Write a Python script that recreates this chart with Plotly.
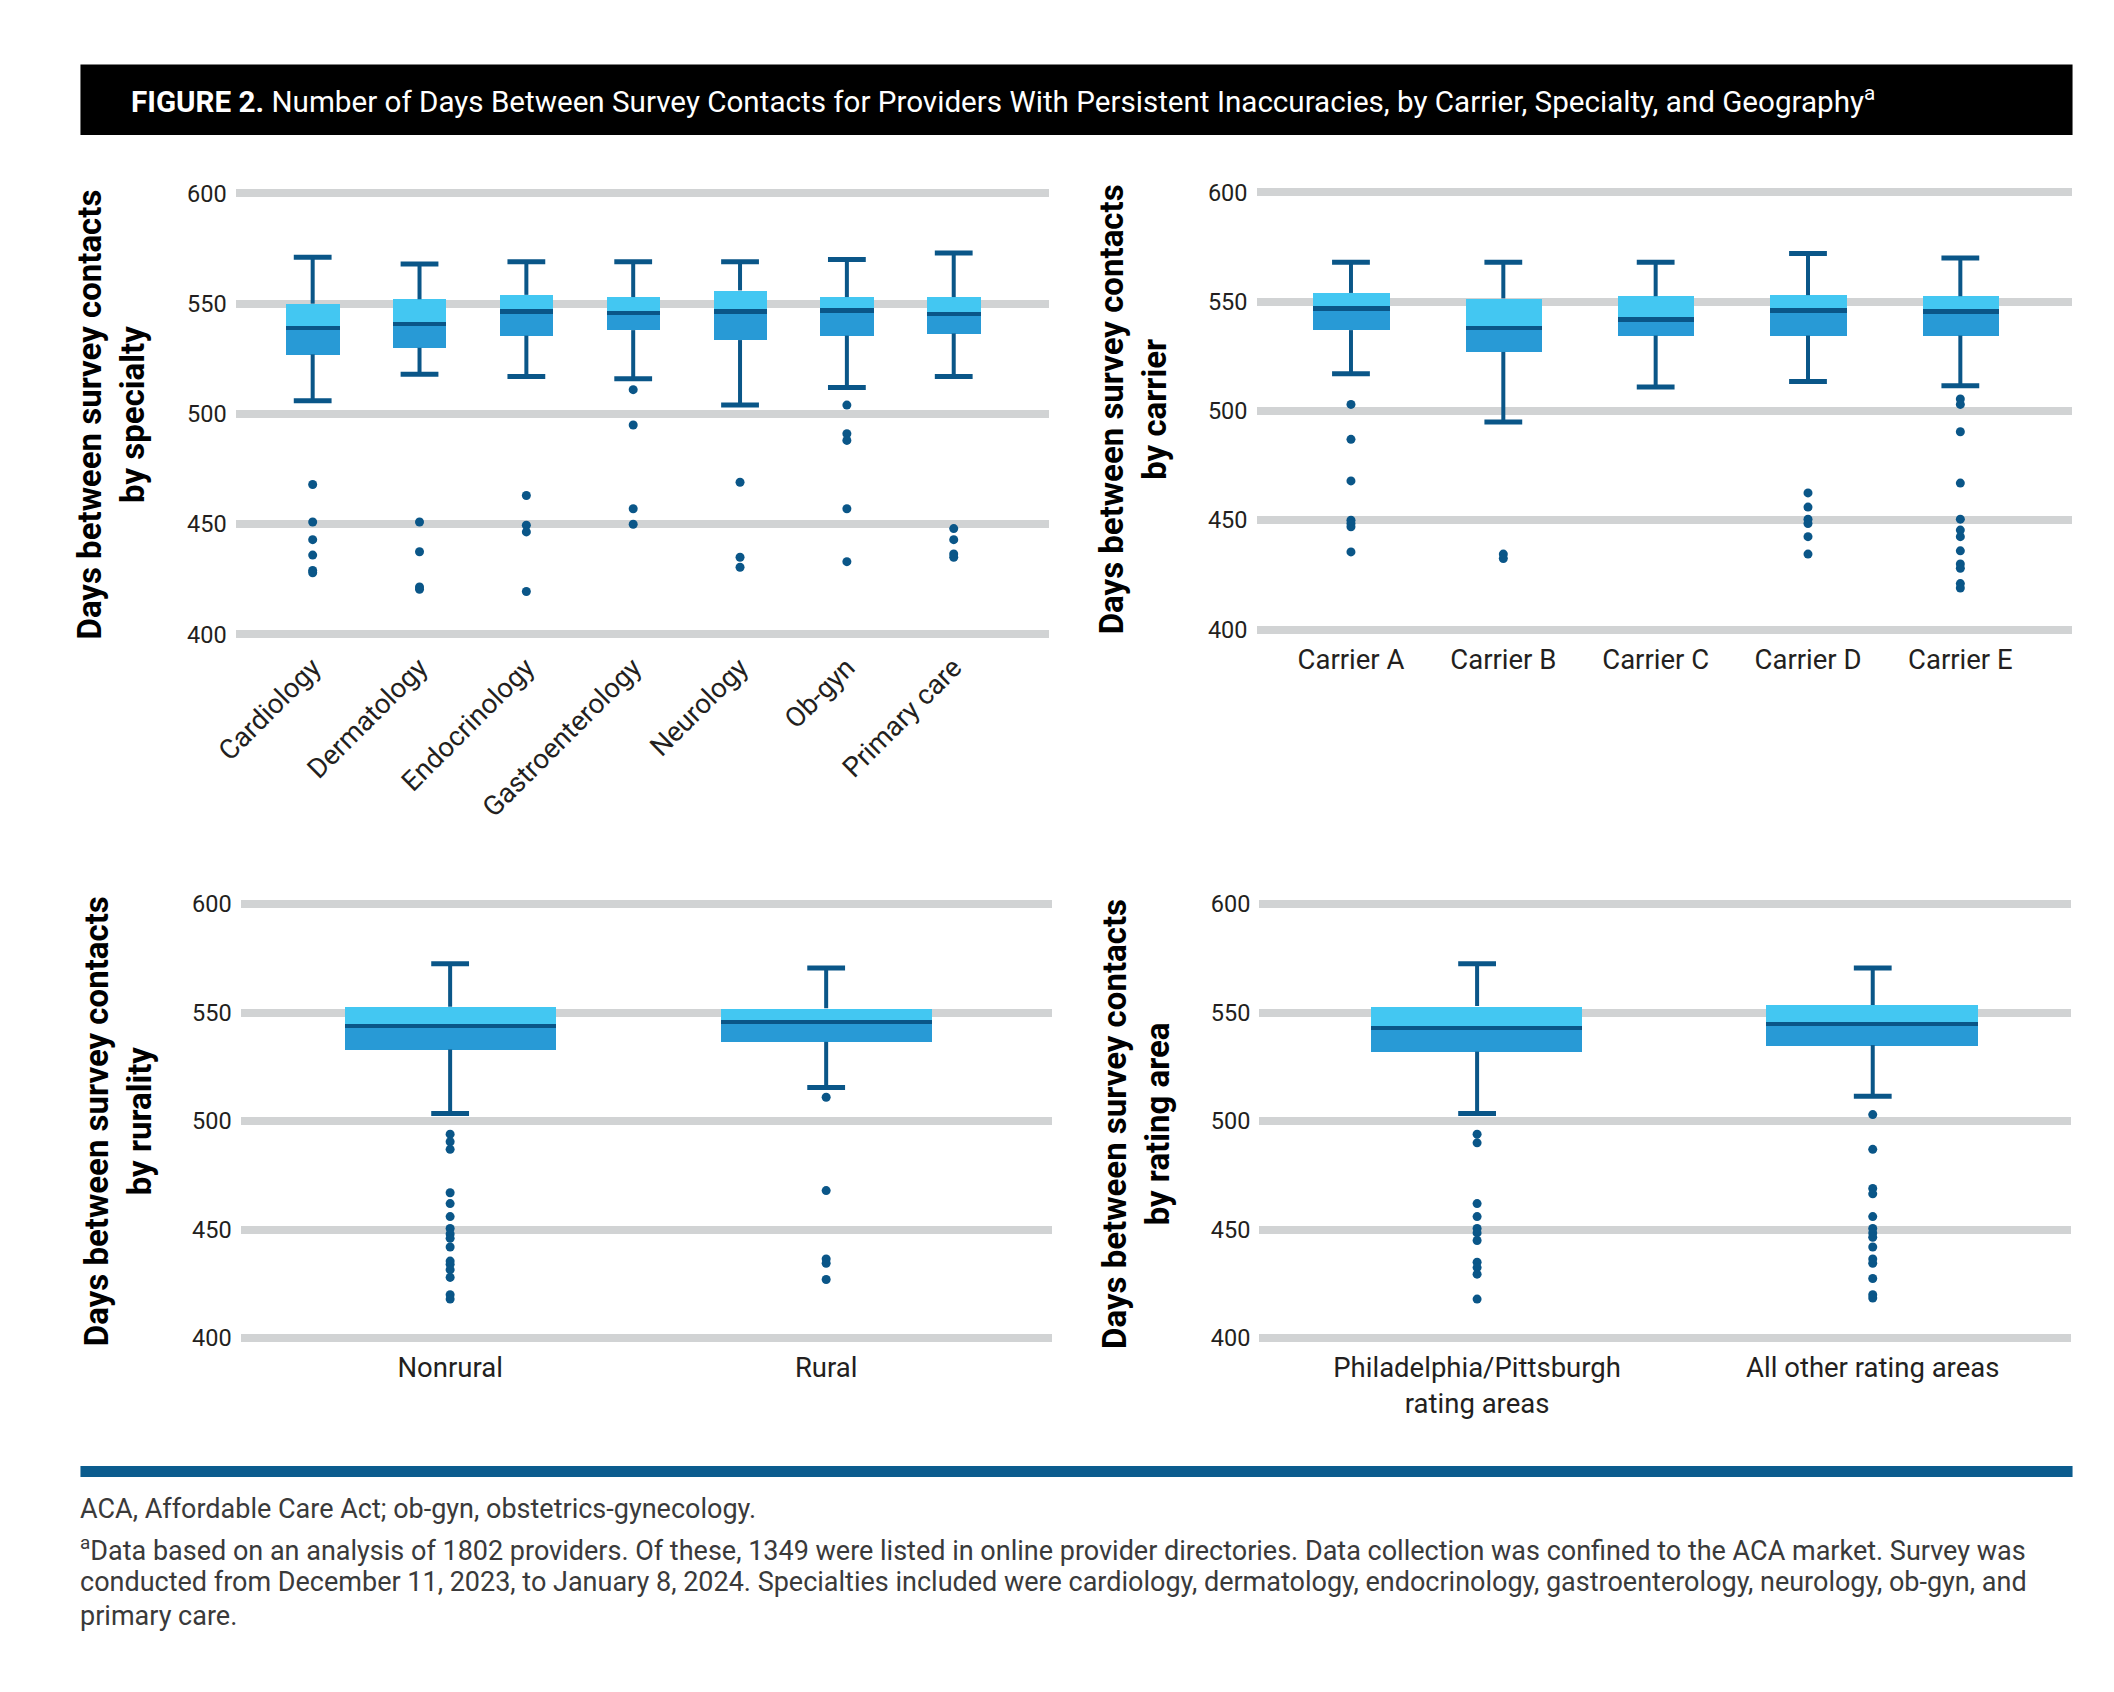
import plotly.graph_objects as go

# ---------------- data ----------------
spec_cats = ["Cardiology", "Dermatology", "Endocrinology", "Gastroenterology",
             "Neurology", "Ob-gyn", "Primary care"]
spec_upper = [571, 568, 569, 569, 569, 570, 573]
spec_q3 = [550, 552, 554, 553, 556, 553, 553]
spec_median = [539, 541, 546.5, 546, 546.5, 547, 545.5]
spec_q1 = [527, 530, 535.5, 538, 533.5, 535.5, 536.5]
spec_lower = [506, 518, 517, 516, 504, 512, 517]
spec_outliers = [
    [468, 451, 443, 436, 429, 428],
    [451, 437.5, 421.5, 420.5],
    [463, 449.5, 446.5, 419.5],
    [511, 495, 457, 450],
    [469, 435, 430.5],
    [504, 491, 488, 457, 433],
    [448, 443, 436.5, 435],
]

carrier_cats = ["Carrier A", "Carrier B", "Carrier C", "Carrier D", "Carrier E"]
carrier_upper = [568, 568, 568, 572, 570]
carrier_q3 = [554, 551.5, 552.5, 553, 552.5]
carrier_median = [547, 538, 542, 546, 545.5]
carrier_q1 = [537, 527, 534.5, 534.5, 534.5]
carrier_lower = [517, 495, 511, 513.5, 511.5]
carrier_outliers = [
    [503, 487, 468, 450, 448.5, 447, 435.5],
    [434.5, 432.5],
    [],
    [462.5, 456, 450.5, 448.5, 442.5, 434.5],
    [505.5, 503, 490.5, 467, 450.5, 445.5, 442.5, 436, 430, 428, 421, 419],
]

rural_cats = ["Nonrural", "Rural"]
rural_upper = [572.5, 570.5]
rural_q3 = [552.7, 552]
rural_median = [544, 546]
rural_q1 = [533, 536.5]
rural_lower = [503.5, 515.5]
rural_outliers = [
    [494, 490.5, 487, 467, 462, 456, 450.5, 448, 446, 442, 435.5, 434, 431.5, 428, 420, 418],
    [511, 468, 436.5, 434.5, 427],
]

area_cats = ["Philadelphia/Pittsburgh<br>rating areas", "All other rating areas"]
area_upper = [572.5, 570.5]
area_q3 = [553, 553.5]
area_median = [543, 545]
area_q1 = [532, 535]
area_lower = [503.5, 511.5]
area_outliers = [
    [494, 490, 462, 456, 450.5, 448.5, 445, 435, 432.5, 429.5, 418],
    [503, 487, 469, 466.5, 456, 450.5, 448.5, 446.5, 442, 436.5, 434.5, 427.5, 420, 418.5],
]

y_ticks = [400, 450, 500, 550, 600]

# ---------------- style ----------------
W, H = 2114, 1692
DARK = "#0A5688"
LIGHT = "#43C7F2"
MID = "#289AD6"
GRID = "#D1D3D4"
TEXT = "#231F20"
FONT = "Roboto"


def px(x):
    return x / W


def py(y):
    return 1 - y / H


fig = go.Figure()


def add_panel(k, cats, q1, med, q3, lo, hi, outs, box_w):
    xid = "x" if k == 1 else f"x{k}"
    yid = "y" if k == 1 else f"y{k}"
    xs = list(range(len(cats)))
    # whisker stems
    sx, sy = [], []
    for i in xs:
        sx += [i, i, None, i, i, None]
        sy += [q3[i], hi[i], None, q1[i], lo[i], None]
    fig.add_trace(go.Scatter(x=sx, y=sy, mode="lines", line=dict(color=DARK, width=4),
                             xaxis=xid, yaxis=yid, showlegend=False, hoverinfo="skip"))
    # whisker caps
    fig.add_trace(go.Scatter(x=xs + xs, y=hi + lo, mode="markers",
                             marker=dict(symbol="line-ew", size=27,
                                         line=dict(color=DARK, width=5)),
                             xaxis=xid, yaxis=yid, showlegend=False, hoverinfo="skip"))
    # lower half box (q1 -> median)
    fig.add_trace(go.Bar(x=xs, y=[m - a for m, a in zip(med, q1)], base=q1, width=box_w,
                         marker=dict(color=MID, line=dict(width=0)),
                         xaxis=xid, yaxis=yid, showlegend=False))
    # upper half box (median -> q3)
    fig.add_trace(go.Bar(x=xs, y=[b - m for m, b in zip(med, q3)], base=med, width=box_w,
                         marker=dict(color=LIGHT, line=dict(width=0)),
                         xaxis=xid, yaxis=yid, showlegend=False))
    # median line
    fig.add_trace(go.Bar(x=xs, y=[2.0] * len(xs), base=[m - 1.0 for m in med], width=box_w,
                         marker=dict(color=DARK, line=dict(width=0)),
                         xaxis=xid, yaxis=yid, showlegend=False))
    # outliers
    ox, oy = [], []
    for i, vals in enumerate(outs):
        ox += [i] * len(vals)
        oy += vals
    fig.add_trace(go.Scatter(x=ox, y=oy, mode="markers",
                             marker=dict(color=DARK, size=9),
                             xaxis=xid, yaxis=yid, showlegend=False))


add_panel(1, spec_cats, spec_q1, spec_median, spec_q3, spec_lower, spec_upper, spec_outliers, 0.5)
add_panel(2, carrier_cats, carrier_q1, carrier_median, carrier_q3, carrier_lower, carrier_upper,
          carrier_outliers, 0.5)
add_panel(3, rural_cats, rural_q1, rural_median, rural_q3, rural_lower, rural_upper,
          rural_outliers, 0.56)
add_panel(4, area_cats, area_q1, area_median, area_q3, area_lower, area_upper,
          area_outliers, 0.535)

# panel geometry (page px): (x0, x1, y_of_600, y_of_400, xrange, tickangle, cats)
panels = [
    (207, 1029, 180, 625, [-0.72, 6.89], -45, spec_cats),
    (1239, 2063, 179, 620, [-0.62, 4.73], 0, carrier_cats),
    (212, 1032, 897, 1335, [-0.557, 1.6], 0, rural_cats),
    (1242, 2062, 897, 1335, [-0.55, 1.5], 0, area_cats),
]

layout = dict(
    width=W, height=H,
    margin=dict(l=0, r=0, t=0, b=0),
    paper_bgcolor="white", plot_bgcolor="white",
    barmode="overlay", bargap=0,
    font=dict(family=FONT, color=TEXT),
    showlegend=False,
)

for k, (x0, x1, y600, y400, xr, ang, cats) in enumerate(panels, start=1):
    ppu = (y400 - y600) / 200.0
    top = y600 - 3 * ppu
    bot = y400 + 3 * ppu
    xkey = "xaxis" if k == 1 else f"xaxis{k}"
    ykey = "yaxis" if k == 1 else f"yaxis{k}"
    yid = "y" if k == 1 else f"y{k}"
    xid = "x" if k == 1 else f"x{k}"
    layout[xkey] = dict(
        domain=[px(x0), px(x1)], anchor=yid, range=xr,
        tickmode="array", tickvals=list(range(len(cats))), ticktext=cats,
        tickangle=ang, showgrid=False, zeroline=False, showline=False, ticks="",
        ticklabelstandoff=4,
        tickfont=dict(size=27.5, color=TEXT, family=FONT), fixedrange=True,
    )
    layout[ykey] = dict(
        domain=[py(bot), py(top)], anchor=xid, range=[397, 603],
        tickmode="array", tickvals=y_ticks,
        showgrid=True, gridcolor=GRID, gridwidth=8, zeroline=False, showline=False,
        ticks="", ticklabelstandoff=8,
        tickfont=dict(size=23.5, color=TEXT, family=FONT), fixedrange=True,
    )

fig.update_layout(**layout)

# y axis titles
ytitles = [
    ("Days between survey contacts<br>by specialty", 81, 403),
    ("Days between survey contacts<br>by carrier", 1115, 398),
    ("Days between survey contacts<br>by rurality", 88, 1116),
    ("Days between survey contacts<br>by rating area", 1117, 1119),
]
for txt, xc, yc in ytitles:
    fig.add_annotation(text=f"<b>{txt}</b>", x=px(xc), y=py(yc), xref="paper", yref="paper",
                       showarrow=False, textangle=-90, xanchor="center", yanchor="middle",
                       font=dict(size=33, color="black", family=FONT))

# title bar
fig.add_shape(type="rect", xref="paper", yref="paper", x0=px(50), x1=px(2064),
              y0=py(121), y1=py(50), fillcolor="black", line=dict(width=0), layer="below")
fig.add_annotation(
    text="<b>FIGURE 2.</b> Number of Days Between Survey Contacts for Providers With Persistent "
         "Inaccuracies, by Carrier, Specialty, and Geography<sup>a</sup>",
    x=px(99), y=py(86), xref="paper", yref="paper", xanchor="left", yanchor="middle",
    showarrow=False, font=dict(size=29.6, color="white", family=FONT))

# footer bar
fig.add_shape(type="rect", xref="paper", yref="paper", x0=px(50), x1=px(2064),
              y0=py(1475), y1=py(1464), fillcolor="#0B5C8E", line=dict(width=0))

foot_lines = [
    ("ACA, Affordable Care Act; ob-gyn, obstetrics-gynecology.", 1507),
    ("<sup>a</sup>Data based on an analysis of 1802 providers. Of these, 1349 were listed in online "
     "provider directories. Data collection was confined to the ACA market. Survey was", 1548),
    ("conducted from December 11, 2023, to January 8, 2024. Specialties included were cardiology, "
     "dermatology, endocrinology, gastroenterology, neurology, ob-gyn, and", 1581),
    ("primary care.", 1615),
]
for txt, yc in foot_lines:
    fig.add_annotation(text=txt, x=px(48), y=py(yc), xref="paper", yref="paper",
                       xanchor="left", yanchor="middle", showarrow=False,
                       font=dict(size=27, color="#3A3A3A", family=FONT))

fig.write_html("out.html")
